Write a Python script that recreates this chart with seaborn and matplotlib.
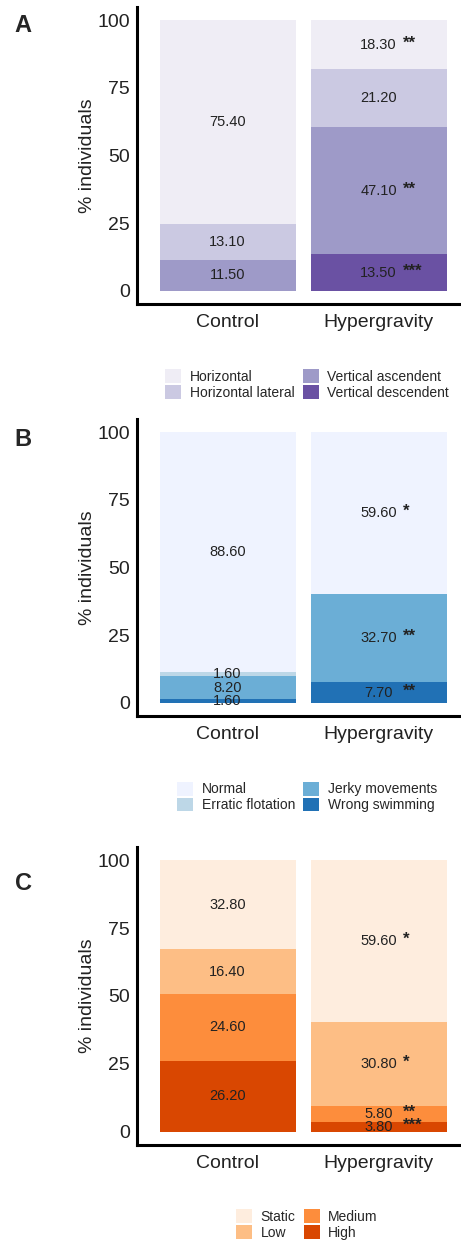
import numpy as np
import pandas as pd
import matplotlib as mpl
mpl.use("Agg")
import matplotlib.pyplot as plt
import seaborn as sns

sns.set_style("white")
plt.rcParams['font.family'] = ['Liberation Sans', 'DejaVu Sans']

groups = ['Control', 'Hypergravity']

# panel A - orientation (top of stack first)
a_levels = ['Horizontal', 'Horizontal lateral', 'Vertical ascendent', 'Vertical descendent']
a_control = [75.40, 13.10, 11.50, 0.0]
a_hyper = [18.30, 21.20, 47.10, 13.50]
a_stars_control = ['', '', '', '']
a_stars_hyper = ['**', '', '**', '***']
a_colors = ['#efedf5', '#cbc9e2', '#9e9ac8', '#6a51a3']

# panel B - swimming
b_levels = ['Normal', 'Erratic flotation', 'Jerky movements', 'Wrong swimming']
b_control = [88.60, 1.60, 8.20, 1.60]
b_hyper = [59.60, 0.0, 32.70, 7.70]
b_stars_control = ['', '', '', '']
b_stars_hyper = ['*', '', '**', '**']
b_colors = ['#eff3ff', '#bdd7e7', '#6baed6', '#2171b5']

# panel C - activity
c_levels = ['Static', 'Low', 'Medium', 'High']
c_control = [32.80, 16.40, 24.60, 26.20]
c_hyper = [59.60, 30.80, 5.80, 3.80]
c_stars_control = ['', '', '', '']
c_stars_hyper = ['*', '*', '**', '***']
c_colors = ['#feedde', '#fdbe85', '#fd8d3c', '#d94701']


W, H = 461, 1240
fig = plt.figure(figsize=(W / 100, H / 100), dpi=100)


def panel(top_px, bottom_px, letter, letter_y, levels, ctrl, hyper, st_c, st_h, colors, leg_y):
    ax = fig.add_axes([137 / W, 1 - bottom_px / H, 1 - 137 / W, (bottom_px - top_px) / H])
    n = len(levels)
    df = pd.DataFrame({'group': np.repeat(groups, n),
                       'level': levels * 2,
                       'pct': ctrl + hyper,
                       'stars': st_c + st_h})
    # stack from bottom (last level) upward
    df['top'] = df.iloc[::-1].groupby('group')['pct'].cumsum().iloc[::-1]
    df['mid'] = df['top'] - df['pct'] / 2
    for lv, col in zip(levels, colors):
        sns.barplot(data=df[df.level == lv], x='group', y='top', order=groups,
                    color=col, saturation=1, width=0.9, linewidth=0,
                    errorbar=None, ax=ax)
    for _, r in df.iterrows():
        if r.pct <= 0:
            continue
        xi = groups.index(r.group)
        ax.text(xi, r.mid, f"{r.pct:.2f}", ha='center', va='center',
                fontsize=10.5, color='#222222')
        if r.stars:
            ax.text(xi + 0.16, r.mid + 0.5, r.stars, ha='left', va='center',
                    fontsize=12, fontweight='bold', color='#222222')
    ax.set_xlim(-0.6, -0.6 + (W - 137) / 151)
    ax.set_ylim(-4.8, 104.8)
    ax.set_yticks([0, 25, 50, 75, 100])
    ax.set_xlabel('')
    ax.set_ylabel('% individuals', fontsize=14, color='#222222', labelpad=1)
    sns.despine(ax=ax)
    for s in ['left', 'bottom']:
        ax.spines[s].set_linewidth(2.2)
        ax.spines[s].set_color('black')
    ax.tick_params(axis='both', which='major', length=3, width=0.8, color='#444444',
                   labelsize=14, labelcolor='#222222', pad=2)
    ax.tick_params(axis='x', pad=4)
    handles = [mpl.patches.Patch(facecolor=c, edgecolor='none') for c in colors]
    fig.legend(handles, levels, ncol=2, loc='center', bbox_to_anchor=(307 / W, 1 - leg_y / H),
               frameon=False, fontsize=10, handlelength=1.15, handleheight=1.15,
               labelspacing=0.08, handletextpad=0.6, columnspacing=0.6, borderpad=0)
    fig.text(23 / W, 1 - letter_y / H, letter, fontsize=17, fontweight='bold',
             ha='center', va='center')
    return ax


panel(7, 304, 'A', 25, a_levels, a_control, a_hyper, a_stars_control, a_stars_hyper, a_colors, 384.5)
panel(419, 716, 'B', 439, b_levels, b_control, b_hyper, b_stars_control, b_stars_hyper, b_colors, 797)
panel(847, 1145, 'C', 884, c_levels, c_control, c_hyper, c_stars_control, c_stars_hyper, c_colors, 1224.5)

plt.savefig('out.png', dpi=100)
